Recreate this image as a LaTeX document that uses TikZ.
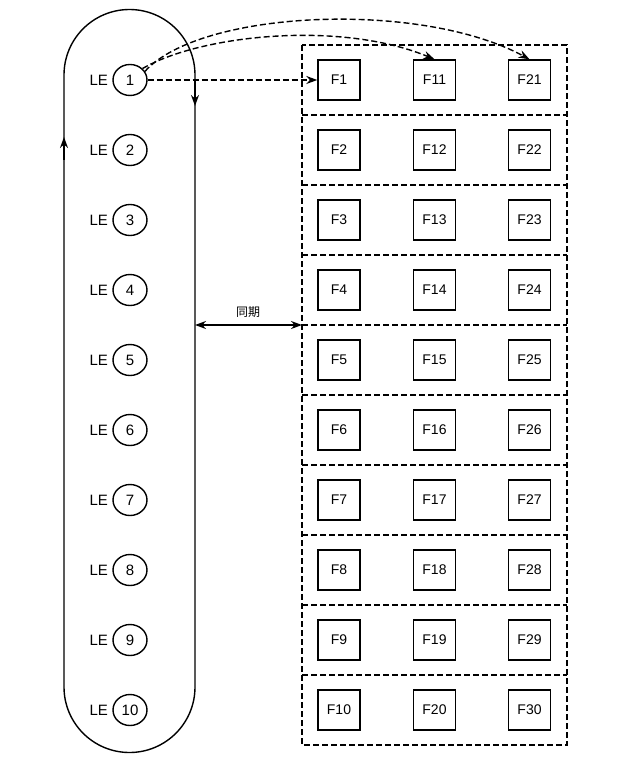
\documentclass[tikz,border=0pt]{standalone}
\usepackage{fontspec}
\setmainfont{Liberation Sans}
\newfontfamily\cjk{Noto Sans CJK SC}
\usetikzlibrary{arrows.meta,shapes.geometric}
\begin{document}
\begin{tikzpicture}[x=1pt,y=-1pt,line width=1.4pt,
  fbox/.style={draw,minimum width=42pt,minimum height=40pt,inner sep=0pt,font=\fontsize{14}{14}\selectfont},
  lec/.style={draw,ellipse,minimum width=34pt,minimum height=31pt,inner sep=0pt,font=\fontsize{15}{15}\selectfont},
  lbl/.style={font=\fontsize{15}{15}\selectfont},
  arr/.style={-{Stealth[length=11pt,width=8pt]}},
  dsh/.style={dashed,dash pattern=on 6pt off 3pt}]
\useasboundingbox (0,0) rectangle (640,770);
% stadium
\draw (64,75) arc[start angle=180,end angle=360,radius=65.5] -- (195,687)
  arc[start angle=0,end angle=180,radius=65.5] -- cycle;
\coordinate (rd1) at (195,80); \coordinate (rd2) at (195,106);
\draw[arr] (rd1) -- (rd2);
\coordinate (lu1) at (64,160); \coordinate (lu2) at (64,137);
\draw[arr] (lu1) -- (lu2);
% big dashed rect
\draw[dsh] (302,45) rectangle (567,745);
\foreach \k in {1,...,9} \draw[dsh] (302,{45+70*\k}) -- (567,{45+70*\k});
\foreach \i in {1,...,10}{
  \pgfmathsetmacro\yy{80+70*(\i-1)}
  \node[lec] (c\i) at (130,\yy) {\i};
  \node[lbl,anchor=east] at (112,\yy) {LE};
  \pgfmathtruncatemacro\b{\i+10}\pgfmathtruncatemacro\c{\i+20}
  \node[fbox] (fa\i) at (339,\yy) {F\i};
  \node[fbox] (fb\i) at (434.5,\yy) {F\b};
  \node[fbox] (fc\i) at (529.5,\yy) {F\c};
}
\draw[dsh,arr] (c1.east) -- (fa1.west);
\draw[dsh,arr] (c1.north east) .. controls (200,35) and (340,20) .. (fb1.north);
\draw[dsh,arr] (c1.30) .. controls (200,10) and (420,0) .. (fc1.north);
% sync
\coordinate (s1) at (195,325); \coordinate (s2) at (302,325);
\draw[{Stealth[length=11pt,width=8pt]}-{Stealth[length=11pt,width=8pt]}] (s1) -- (s2);
\node[font=\cjk\fontsize{12}{12}\selectfont] at (248,312) {同期};
\end{tikzpicture}
\end{document}
